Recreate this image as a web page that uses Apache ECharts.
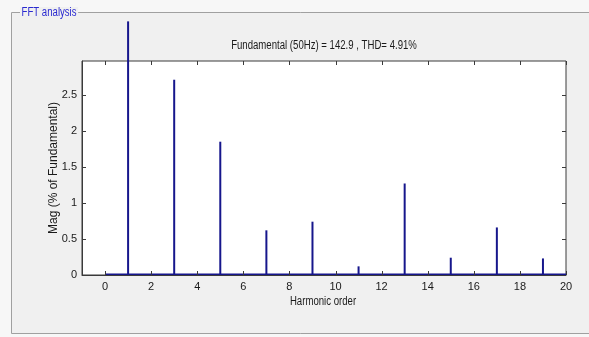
<!DOCTYPE html>
<html>
<head>
<meta charset="utf-8">
<script src="https://cdn.jsdelivr.net/npm/echarts@6/dist/echarts.min.js"></script>
<style>
    html, body {margin: 0; padding: 0; background: #f7f7f7;}
    #fft {width: 589px; height: 337px;}
</style>
</head>
<body>
<div id="fft"></div>
<script>
// harmonic order 0..20, magnitude in % of fundamental
let orders = [0, 1, 2, 3, 4, 5, 6, 7, 8, 9, 10, 11, 12, 13, 14, 15, 16, 17, 18, 19, 20];
let mags = [0, 3.52, 0, 2.71, 0, 1.85, 0, 0.62, 0, 0.74, 0, 0.12, 0, 1.27, 0, 0.24, 0, 0.66, 0, 0.23, 0];
let xTicks = [0, 2, 4, 6, 8, 10, 12, 14, 16, 18, 20];
let yTicks = [0, 0.5, 1, 1.5, 2, 2.5];
let xRange = [-1, 20];
let yRange = [0, 2.97];
let titleText = 'Fundamental (50Hz) = 142.9 , THD= 4.91%';

let font = "'Liberation Sans', Arial, sans-serif";
let textColor = '#1a1a1a';
let stemColor = '#16168c';
let boxColor = '#3a3a3a';
let tickLen = 4;

// 窄字体不可用, 用 scaleX 压缩文字
let narrow = 0.8;

// MATLAB 风格的刻度: 四边都有, 朝内
let tickLine = (x1, y1, x2, y2) => ({
    type: 'line',
    shape: {x1: x1, y1: y1, x2: x2, y2: y2},
    style: {stroke: boxColor, lineWidth: 1}
});

let renderXTick = (params, api) => {
    let cs = params.coordSys;
    let x = Math.round(api.coord([api.value(0), yRange[0]])[0]) + 0.5;
    return {
        type: 'group',
        children: [
            tickLine(x, cs.y + cs.height, x, cs.y + cs.height - tickLen),
            tickLine(x, cs.y, x, cs.y + tickLen)
        ]
    };
};

let renderYTick = (params, api) => {
    let cs = params.coordSys;
    let y = Math.round(api.coord([xRange[0], api.value(1)])[1]) + 0.5;
    return {
        type: 'group',
        children: [
            tickLine(cs.x, y, cs.x + tickLen, y),
            tickLine(cs.x + cs.width, y, cs.x + cs.width - tickLen, y)
        ]
    };
};

let chart = echarts.init(document.getElementById('fft'));
chart.setOption({
    animation: false,
    backgroundColor: '#f7f7f7',
    graphic: [
        {
            type: 'rect',
            shape: {x: 11.5, y: 12.5, width: 600, height: 321},
            style: {fill: '#f0f0f0', stroke: '#a0a0a0', lineWidth: 1},
            z: -10
        },
        {
            type: 'text',
            x: 20,
            y: 13,
            scaleX: narrow,
            style: {
                text: 'FFT analysis',
                fill: '#2a2ad0',
                font: '12px ' + font,
                textVerticalAlign: 'middle',
                backgroundColor: '#f0f0f0',
                padding: [0, 2, 0, 2]
            },
            z: -5
        },
        {
            type: 'text',
            x: 324,
            y: 46,
            scaleX: narrow,
            style: {
                text: titleText,
                fill: textColor,
                font: '12px ' + font,
                textAlign: 'center',
                textVerticalAlign: 'middle'
            }
        },
        {
            type: 'text',
            x: 323,
            y: 302,
            scaleX: narrow,
            style: {
                text: 'Harmonic order',
                fill: textColor,
                font: '12px ' + font,
                textAlign: 'center',
                textVerticalAlign: 'middle'
            }
        }
    ],
    grid: {
        left: 82,
        top: 61,
        width: 484,
        height: 214,
        show: true,
        backgroundColor: '#ffffff',
        borderWidth: 1,
        borderColor: boxColor
    },
    xAxis: {
        type: 'value',
        min: xRange[0],
        max: xRange[1],
        axisLine: {show: true, onZero: false, lineStyle: {color: boxColor}},
        axisTick: {show: false},
        splitLine: {show: false},
        axisLabel: {customValues: xTicks, fontFamily: font, fontSize: 11, color: textColor, margin: 6}
    },
    yAxis: {
        type: 'value',
        min: yRange[0],
        max: yRange[1],
        name: 'Mag (% of Fundamental)',
        nameLocation: 'middle',
        nameGap: 22,
        nameMoveOverlap: false,
        nameTextStyle: {fontFamily: font, fontSize: 12, color: textColor},
        axisLine: {show: true, onZero: false, lineStyle: {color: boxColor}},
        axisTick: {show: false},
        splitLine: {show: false},
        axisLabel: {customValues: yTicks, fontFamily: font, fontSize: 11, color: textColor, margin: 5}
    },
    series: [
        {
            name: 'baseline',
            type: 'line',
            data: orders.map((o) => [o, 0.01]),
            symbol: 'none',
            lineStyle: {color: stemColor, width: 1.5},
            silent: true,
            z: 3
        },
        {
            name: 'mag',
            type: 'bar',
            data: orders.map((o, i) => [o, mags[i]]),
            barWidth: 2,
            clip: false,
            itemStyle: {color: stemColor},
            silent: true,
            z: 4
        },
        {
            name: 'xTicks',
            type: 'custom',
            data: xTicks.map((v) => [v, 0]),
            renderItem: renderXTick,
            silent: true,
            z: 5
        },
        {
            name: 'yTicks',
            type: 'custom',
            data: yTicks.map((v) => [xRange[0], v]),
            renderItem: renderYTick,
            silent: true,
            z: 5
        }
    ]
});
</script>
</body>
</html>
